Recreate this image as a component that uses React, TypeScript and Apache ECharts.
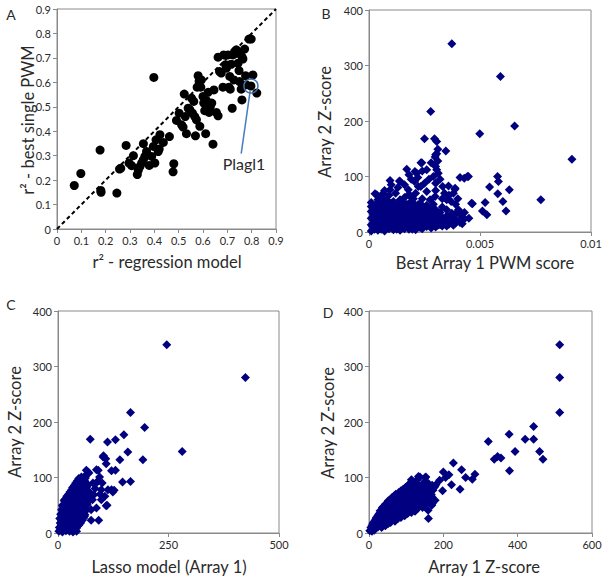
import React, { useEffect, useRef } from "react";
import * as echarts from "echarts";

const FONT = 'Lato, "Noto Sans", sans-serif';
const NAVY = "#000080";
const AXIS_GREY = "#8a8a8a";
const TEXT = "#2a2a2a";

// Panel A: r^2 regression model (x) vs r^2 best single PWM (y)
const aPoints: number[][] = [
  [0.071,0.178],[0.098,0.227],[0.177,0.323],[0.180,0.158],[0.181,0.150],[0.246,0.147],[0.284,0.342],[0.262,0.249],
  [0.257,0.245],[0.296,0.270],[0.307,0.259],[0.314,0.300],[0.330,0.223],[0.334,0.240],[0.341,0.256],[0.348,0.270],
  [0.355,0.283],[0.361,0.297],[0.355,0.349],[0.368,0.317],[0.379,0.260],[0.389,0.297],[0.396,0.338],[0.398,0.620],
  [0.402,0.270],[0.407,0.365],[0.416,0.317],[0.420,0.327],[0.423,0.386],[0.437,0.354],[0.462,0.378],[0.480,0.267],
  [0.477,0.234],[0.491,0.444],[0.502,0.474],[0.512,0.426],[0.518,0.417],[0.523,0.552],[0.527,0.460],[0.532,0.390],
  [0.539,0.494],[0.546,0.488],[0.553,0.535],[0.557,0.474],[0.562,0.522],[0.566,0.460],[0.573,0.447],[0.569,0.381],
  [0.576,0.580],[0.580,0.627],[0.584,0.604],[0.587,0.420],[0.591,0.580],[0.593,0.610],[0.600,0.542],[0.603,0.515],
  [0.607,0.484],[0.611,0.390],[0.614,0.526],[0.621,0.559],[0.625,0.477],[0.630,0.501],[0.636,0.515],[0.641,0.347],
  [0.645,0.569],[0.655,0.477],[0.662,0.463],[0.662,0.703],[0.668,0.644],[0.675,0.638],[0.682,0.580],[0.685,0.712],
  [0.693,0.672],[0.696,0.658],[0.703,0.712],[0.707,0.580],[0.710,0.624],[0.712,0.572],[0.716,0.674],[0.720,0.494],
  [0.723,0.712],[0.727,0.610],[0.730,0.726],[0.737,0.733],[0.739,0.719],[0.744,0.678],[0.748,0.648],[0.750,0.603],
  [0.753,0.719],[0.757,0.572],[0.760,0.528],[0.761,0.703],[0.764,0.695],[0.771,0.736],[0.775,0.627],[0.778,0.590],
  [0.789,0.777],[0.798,0.777],[0.797,0.585],[0.805,0.630],[0.821,0.556]
];
const diagonal: number[][] = [[0, 0], [0.9, 0.9]];
const plagl1: number[][] = [[0.797, 0.585]];
const plagl1Leader: number[][] = [[0.794, 0.566], [0.757, 0.308]];

// Panel B: best Array 1 PWM score (x) vs Array 2 Z-score (y)
const bPoints: number[][] = [
  [0.00373,339],[0.00592,280],[0.00656,191],[0.00499,177],[0.00278,217],[0.00914,131],[0.00774,58],
  [0.00579,100],[0.00583,91],[0.00543,81],[0.00632,76],[0.0058,69],[0.00603,55],[0.00617,38],[0.00523,53],
  [0.00511,38],[0.00531,31],[0.00466,51],[0.00448,100],[0.00429,97],[0.00388,79],[0.00346,146],[0.00295,168],
  [0.00305,163],[0.0025,168],[0.0031,149],[0.00298,135],[0.00305,141],[0.00238,125],[0.0017,113],[0.00095,93],
  [0.0014,91],[0.00027,69],[0.00062,69],[0.00215,106],[0.00205,91],[0.00305,112],[0.00332,82],[0.00358,83],
  [0.0038,70],[0.00403,40],[0.0041,31],[0.00426,22],[0.00373,34],[0.0035,58],[0.00298,64],[0.0026,73],
  [0.00275,58],[0.00233,82],[0.00185,64],[0.0014,58],[0.0011,46],[0.0005,46],[0.0008,58],[0.00223,43],
  [0.00275,34],[0.0032,25],[0.0035,28],[0.0038,19],[0.00137,92],[0.00207,109],[0.00234,125],[0.0024,110],
  [0.003,139],[0.00312,106],[0.003,88],[0.00387,77],[0.0041,98],[0.00443,100],[0.00462,52],[0.004,37],
  [0.00417,22],[0.00035,67],[0.00095,76],[0.00177,76],[0.00222,82],[0.0012,70],[0.0016,62],[0.0019,55],
  [0.0029,50],[0.0033,45],[0.0027,95],[0.003,118],[0.0031,128],[0.0029,100],[0.0007,55],[0.0004,58],
  [0.0013,80],[0.0021,70],[0.0024,60],[0.003,75],[0.0036,66],[0.0039,50],[0.0033,60],
  [0.0006,62],[0.0009,66],[0.0011,55],[0.0015,52],[0.0018,68],[0.002,60],[0.0023,52],[0.0026,48],[0.0028,42],
  [0.0016,85],[0.0019,95],[0.0022,98],[0.0025,88],[0.001,85],[0.0004,50],[0.0007,75],[0.0018,103],[0.0026,112],
  [0.0028,125],[0.0032,95],[0.0034,70],[0.0037,55],[0.004,60],[0.0043,35],[0.0045,25],[0.0032,35],[0.003,40],
  [0.0035,40],[0.0038,30],[0.0042,28],
  [0.0001,2],[0.0004,3],[0.0007,2],[0.0011,4],[0.0014,3],[0.0018,5],[0.0021,4],
  [0.00025,5],[0.00055,5],[0.0009,6],[0.00125,5],[0.0016,6],[0.00195,5],[0.0024,6],[0.0028,7],
  [0.0002,8],[0.0005,7],[0.0009,9],[0.0012,8],[0.0016,7],[0.0019,9],[0.0023,8],[0.0026,10],[0.003,9],[0.0033,11],
  [0.00015,11],[0.0005,11],[0.00085,11],[0.0012,12],[0.00155,11],[0.0019,12],[0.0024,11],[0.0028,12],[0.0031,12],
  [0.0035,11],[0.0038,12],
  [0.0001,13],[0.0004,14],[0.0008,12],[0.0011,14],[0.0015,13],[0.0018,15],[0.0022,13],[0.0025,14],[0.0029,15],
  [0.0032,13],[0.0036,14],[0.0039,16],[0.0042,15],
  [0.0002,16],[0.0006,17],[0.00095,16],[0.0013,17],[0.00165,16],[0.002,17],[0.0023,16],[0.0027,17],[0.0031,16],
  [0.0034,17],[0.0038,16],[0.0041,17],
  [0.0003,19],[0.0006,20],[0.001,18],[0.0013,20],[0.0017,19],[0.002,21],[0.0024,19],[0.0027,20],[0.0031,18],
  [0.0034,21],[0.0037,19],[0.0041,20],
  [0.0002,22],[0.0005,23],[0.0009,22],[0.0012,23],[0.0016,22],[0.0019,23],[0.0023,22],[0.0026,23],[0.003,22],
  [0.0033,23],[0.0036,22],[0.0039,23],
  [0.0001,25],[0.0005,26],[0.0008,24],[0.0012,26],[0.0015,25],[0.0019,27],[0.0022,25],[0.0026,26],[0.0029,24],
  [0.0033,26],[0.0036,25],
  [0.0003,28],[0.0007,29],[0.001,28],[0.0014,29],[0.0017,28],[0.0021,29],[0.0024,28],[0.0028,27],[0.0031,28],[0.0035,29],
  [0.0002,31],[0.0006,32],[0.0009,30],[0.0013,32],[0.0017,31],[0.0021,33],[0.0024,31],[0.0028,30],[0.0031,32],
  [0.0003,34],[0.0007,35],[0.0011,34],[0.0015,35],[0.0019,34],[0.0023,35],[0.0026,34],[0.003,35],
  [0.0001,37],[0.0004,38],[0.0008,36],[0.0011,38],[0.0015,37],[0.0018,39],[0.0023,37],[0.0027,38],
  [0.0003,40],[0.0006,41],[0.001,40],[0.0013,41],[0.0017,40],[0.0021,41],[0.0025,40],
  [0.0002,43],[0.0006,44],[0.001,42],[0.0014,44],[0.0019,43],[0.0025,44],
  [0.0001,46],[0.0005,47],[0.0009,46],[0.0012,47],[0.0016,46],[0.002,47],[0.0023,46],
  [0.0003,49],[0.0008,50],[0.0013,48],[0.0017,50],[0.0022,49],
  [0.0001,53],[0.0005,53],[0.001,52],[0.0015,53],[0.002,52]
];

// Panel C: Lasso model (Array 1) (x) vs Array 2 Z-score (y)
const cPoints: number[][] = [
  [246,339],[424,280],[164,217],[196,190],[149,177],[130,168],[73,169],[112,164],[158,146],[281,147],[192,132],
  [140,132],[130,113],[102,137],[108,134],[109,125],[146,92],[164,93],[121,78],[124,74],[111,50],[92,23],[75,23],
  [94,101],[91,113],[64,113],[68,110],[53,101],[88,92],[103,139],[121,112],[87,114],[113,78],[127,77],[109,49],
  [70,108],[60,102],[90,93],[79,90],[98,78],[81,69],[106,66],[98,60],[87,45],[75,42],[60,30],[15,60],[23,66],
  [11,48],[100,90],[84,80],[95,70],[78,60],[70,75],[66,85],
  [2,3],[10,2],[18,4],[26,3],[34,2],[42,3],
  [6,7],[14,7],[22,6],[30,7],[38,7],
  [3,10],[11,11],[19,9],[27,10],[35,11],[42,9],
  [7,14],[15,14],[23,15],[31,14],[39,13],[47,14],
  [5,18],[13,17],[21,19],[29,18],[37,17],[45,19],[51,18],
  [8,22],[16,22],[24,23],[32,22],[40,21],[48,22],[55,23],
  [4,26],[12,27],[20,25],[28,26],[36,27],[44,25],[52,26],[58,27],
  [9,30],[17,30],[25,31],[33,30],[41,29],[49,30],[57,31],
  [6,34],[14,33],[22,35],[30,34],[38,33],[46,35],[54,34],[61,33],
  [11,38],[19,38],[27,39],[35,38],[43,37],[51,38],[59,39],
  [8,42],[16,41],[24,43],[32,42],[40,41],[48,43],[56,42],[64,41],
  [13,46],[21,46],[29,47],[37,46],[45,45],[53,46],[61,47],
  [10,50],[18,51],[26,49],[34,50],[42,51],[50,49],[58,50],[66,51],
  [16,54],[24,54],[32,55],[40,54],[48,53],[56,54],[64,55],
  [14,58],[22,57],[30,59],[38,58],[46,57],[54,59],[62,58],[70,57],
  [18,62],[26,62],[34,63],[42,62],[50,61],[58,62],[66,63],
  [20,66],[28,67],[36,65],[44,66],[52,67],[60,65],[68,66],
  [24,70],[32,70],[40,71],[48,70],[56,69],[64,70],
  [27,74],[35,73],[43,75],[51,74],[59,73],[67,75],
  [31,78],[39,78],[47,79],[55,78],[63,77],
  [33,82],[41,83],[49,81],[57,82],[65,83],
  [37,86],[45,86],[53,87],[61,86],
  [40,90],[48,89],[56,91],[64,90],
  [44,94],[52,94],[60,95],
  [47,98],[55,97],[62,99]
];

// Panel D: Array 1 Z-score (x) vs Array 2 Z-score (y)
const dPoints: number[][] = [
  [513,339],[513,280],[513,217],[443,192],[443,169],[420,169],[377,178],[321,165],[393,147],[459,147],[468,133],
  [337,133],[346,138],[355,135],[378,112],[285,106],[278,97],[260,100],[249,114],[227,126],[245,79],[215,105],
  [200,110],[206,100],[222,87],[198,76],[177,84],[168,65],[159,41],[170,53],[153,101],[137,101],[119,90],
  [114,96],[115,92],[133,102],[151,100],[124,82],[178,59],[169,50],[160,26],
  [2,4],[8,3],[14,5],
  [5,10],[14,9],[24,11],[34,10],
  [8,13],[20,13],[32,14],[44,13],
  [10,16],[18,17],[28,15],[40,16],[52,17],
  [12,19],[22,19],[34,20],[46,19],[58,19],
  [16,22],[24,23],[34,21],[46,22],[58,23],[70,21],
  [18,25],[30,25],[42,26],[54,25],[66,25],[78,26],
  [20,28],[28,29],[38,27],[50,28],[62,29],[74,27],[86,28],
  [24,31],[36,31],[48,32],[60,31],[72,31],[84,32],[96,31],
  [26,34],[34,35],[44,33],[56,34],[68,35],[80,33],[92,34],[104,35],
  [30,37],[42,37],[54,38],[66,37],[78,37],[90,38],[102,37],[114,37],
  [30,40],[40,41],[52,39],[64,40],[76,41],[88,39],[100,40],[112,41],[124,39],
  [36,43],[46,43],[58,44],[70,43],[82,43],[94,44],[106,43],[118,43],[130,44],
  [36,46],[48,47],[60,45],[72,46],[84,47],[96,45],[108,46],[120,47],[132,45],[144,46],
  [42,49],[54,49],[66,50],[78,49],[90,49],[102,50],[114,49],[126,49],[138,50],[150,49],
  [44,52],[56,53],[68,51],[80,52],[92,53],[104,51],[116,52],[128,53],[140,51],[152,52],
  [50,55],[62,55],[74,56],[86,55],[98,55],[110,56],[122,55],[134,55],[146,56],[158,55],
  [52,58],[64,59],[76,57],[88,58],[100,59],[112,57],[124,58],[136,59],[148,57],[160,58],
  [58,61],[70,61],[82,62],[94,61],[106,61],[118,62],[130,61],[142,61],[154,62],[166,61],
  [62,64],[74,65],[86,63],[98,64],[110,65],[122,63],[134,64],[146,65],[158,63],[170,64],
  [68,67],[80,67],[92,68],[104,67],[116,67],[128,68],[140,67],[152,67],[164,68],
  [72,70],[84,71],[96,69],[108,70],[120,71],[132,69],[144,70],[156,71],[168,69],
  [80,73],[92,73],[104,74],[116,73],[128,73],[140,74],[152,73],[165,73],
  [86,76],[98,77],[110,75],[122,76],[134,77],[146,75],[158,76],[172,77],
  [92,79],[104,79],[116,80],[128,79],[140,79],[152,80],[167,79],
  [98,82],[110,83],[122,81],[134,82],[146,83],[160,81],[175,82],
  [104,85],[116,85],[128,86],[140,85],[154,85],[170,86],
  [108,88],[120,89],[132,87],[145,88],[160,89],[180,87],
  [116,94],[128,95],[150,93],[190,95]
];

const axisBase = {
  type: "value" as const,
  splitLine: { show: false },
  axisLine: { show: true, onZero: false, lineStyle: { color: AXIS_GREY, width: 1 } },
  axisTick: { show: true, length: 4, lineStyle: { color: AXIS_GREY } },
  axisLabel: { color: TEXT, fontSize: 11, fontFamily: FONT, margin: 6 },
};

const fmtA = (v: number) => (v === 0 ? "0" : v.toFixed(1));
const fmtB = (v: number) => (v === 0 ? "0" : String(+v.toFixed(3)));

function titleText(text: string, x: number, y: number, rotate = false, size = 16.5) {
  return {
    type: "text",
    x,
    y,
    rotation: rotate ? Math.PI / 2 : 0,
    style: {
      text,
      fill: TEXT,
      font: `${size}px ${FONT}`,
      align: "center",
      verticalAlign: "middle",
    },
  };
}

export default function App() {
  const ref = useRef<HTMLDivElement>(null);
  useEffect(() => {
    if (!ref.current) return;
    const chart = echarts.init(ref.current, undefined, { renderer: "svg" });
    const gridBase = { show: true, borderColor: AXIS_GREY, borderWidth: 1, backgroundColor: "transparent", containLabel: false };
    const navyScatter = { type: "scatter", symbol: "diamond", symbolSize: 9, itemStyle: { color: NAVY, opacity: 1 } };
    chart.setOption({
      animation: false,
      backgroundColor: "#ffffff",
      grid: [
        { ...gridBase, left: 57, top: 9, width: 219, height: 220 },
        { ...gridBase, left: 369, top: 10, width: 222, height: 222 },
        { ...gridBase, left: 58, top: 311, width: 221, height: 222 },
        { ...gridBase, left: 369, top: 311, width: 223, height: 222 },
      ],
      xAxis: [
        { ...axisBase, gridIndex: 0, min: 0, max: 0.9, interval: 0.1, axisLabel: { ...axisBase.axisLabel, formatter: fmtA } },
        { ...axisBase, gridIndex: 1, min: 0, max: 0.01, interval: 0.005, axisLabel: { ...axisBase.axisLabel, formatter: fmtB } },
        { ...axisBase, gridIndex: 2, min: 0, max: 500, interval: 250 },
        { ...axisBase, gridIndex: 3, min: 0, max: 600, interval: 200 },
      ],
      yAxis: [
        { ...axisBase, gridIndex: 0, min: 0, max: 0.9, interval: 0.1, axisLabel: { ...axisBase.axisLabel, formatter: fmtA } },
        { ...axisBase, gridIndex: 1, min: 0, max: 400, interval: 100 },
        { ...axisBase, gridIndex: 2, min: 0, max: 400, interval: 100 },
        { ...axisBase, gridIndex: 3, min: 0, max: 400, interval: 100 },
      ],
      series: [
        {
          type: "line",
          xAxisIndex: 0,
          yAxisIndex: 0,
          data: diagonal,
          symbol: "none",
          lineStyle: { color: "#000", width: 2, type: [4, 3] },
          z: 1,
        },
        {
          type: "scatter",
          xAxisIndex: 0,
          yAxisIndex: 0,
          data: aPoints,
          symbol: "circle",
          symbolSize: 9,
          itemStyle: { color: "#000", opacity: 1 },
          z: 2,
        },
        {
          type: "line",
          xAxisIndex: 0,
          yAxisIndex: 0,
          data: plagl1Leader,
          symbol: "none",
          lineStyle: { color: "#4a7cc0", width: 1.5 },
          z: 3,
        },
        {
          type: "scatter",
          xAxisIndex: 0,
          yAxisIndex: 0,
          data: plagl1,
          symbol: "circle",
          symbolSize: 14,
          itemStyle: { color: "transparent", borderColor: "#3f6fae", borderWidth: 1.5, opacity: 1 },
          z: 4,
        },
        { ...navyScatter, xAxisIndex: 1, yAxisIndex: 1, data: bPoints },
        { ...navyScatter, xAxisIndex: 2, yAxisIndex: 2, data: cPoints },
        { ...navyScatter, xAxisIndex: 3, yAxisIndex: 3, data: dPoints },
      ],
      graphic: [
        titleText("A", 11, 14, false, 14),
        titleText("B", 326, 13, false, 14),
        titleText("C", 11, 304, false, 14),
        titleText("D", 328, 312, false, 14),
        titleText("Plagl1", 244, 163, false, 16),
        titleText("r² - regression model", 167, 262),
        titleText("r² - best single PWM", 28, 120, true),
        titleText("Best Array 1 PWM score", 485, 263),
        titleText("Array 2 Z-score", 325, 122, true),
        titleText("Lasso model (Array 1)", 169, 567),
        titleText("Array 2 Z-score", 15, 422, true),
        titleText("Array 1 Z-score", 484, 567),
        titleText("Array 2 Z-score", 328, 423, true),
      ],
    });
    return () => chart.dispose();
  }, []);
  return (
    <div
      ref={ref}
      style={{ position: "absolute", left: 0, top: 0, width: 605, height: 581 }}
    />
  );
}
